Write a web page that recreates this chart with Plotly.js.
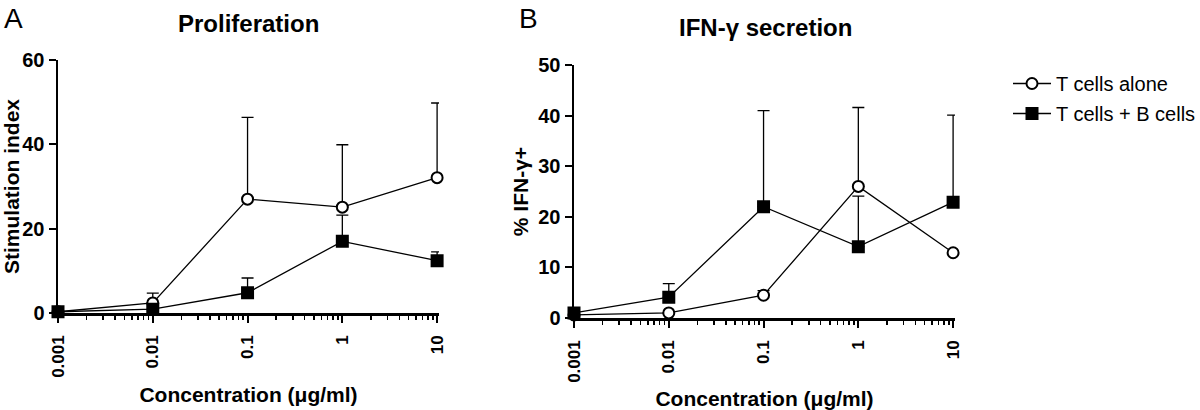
<!DOCTYPE html>
<html><head><meta charset="utf-8">
<script src="https://cdn.plot.ly/plotly-3.0.1.min.js"></script>
<style>body{margin:0;background:#fff}#c{width:1200px;height:410px}</style>
</head><body><div id="c"></div>
<script>
const conc = [0.001, 0.01, 0.1, 1, 10];
const tickLabels = ["0.001", "0.01", "0.1", "1", "10"];
// Panel A: Proliferation (stimulation index)
const profAlone = [0.3, 2.4, 27.0, 25.1, 32.1];
const profAloneErr = [0, 2.3, 19.4, 14.8, 17.7];
const profWithB = [0.3, 0.9, 4.8, 17.0, 12.4];
const profWithBErr = [0, 0, 3.5, 6.2, 2.1];
// Panel B: IFN-γ secretion (% IFN-γ+)
const ifnAlone = [0.6, 1.0, 4.5, 26.0, 12.9];
const ifnAloneErr = [0, 0, 0.9, 15.6, 0];
const ifnWithB = [1.0, 4.1, 22.0, 14.1, 22.9];
const ifnWithBErr = [0, 2.7, 19.0, 10.0, 17.2];

const FONT = "Liberation Sans, Arial, sans-serif";
const W = 1200, H = 410;
function ex(a,b){return [a/W, b/W];}
function ey(top,bot){return [(H-bot)/H, (H-top)/H];}

function tr(x, y, err, name, filled, xa, ya, show){
  return {x:x, y:y, type:'scatter', mode:'lines+markers', name:name, showlegend:show,
    legendgroup:name, xaxis:xa, yaxis:ya, cliponaxis:false,
    line:{color:'#000', width:1.3},
    marker:{symbol: filled?'square':'circle', size:11, color: filled?'#000':'#fff',
      line:{color:'#000', width:2}},
    error_y:{type:'data', symmetric:false, array:err, arrayminus:err.map(()=>0),
      color:'#000', thickness:1.3, width:6}};
}

const data = [
  tr(conc, profAlone, profAloneErr, 'T cells alone', false, 'x', 'y', true),
  tr(conc, profWithB, profWithBErr, 'T cells + B cells', true, 'x', 'y', true),
  tr(conc, ifnAlone, ifnAloneErr, 'T cells alone', false, 'x2', 'y2', false),
  tr(conc, ifnWithB, ifnWithBErr, 'T cells + B cells', true, 'x2', 'y2', false),
];

function xaxis(domain, anchor, so){
  return {type:'log', domain:domain, anchor:anchor, range:[-3, 1.02],
    showgrid:false, zeroline:false, showline:true, linecolor:'#000', linewidth:2.5,
    ticks:'outside', ticklen:7, tickwidth:2, tickcolor:'#000', ticklabelstandoff:6,
    tickvals:conc, ticktext:tickLabels, tickangle:-90,
    tickfont:{family:FONT, size:17, color:'#000', weight:'bold'},
    minor:{ticks:'outside', ticklen:4, tickwidth:1.5, tickcolor:'#000', dtick:'D1', showgrid:false},
    title:{text:'<b>Concentration (μg/ml)</b>', font:{family:FONT, size:21, color:'#000'}, standoff:so}};
}
function yaxis(domain, anchor, max, dt, title, so){
  return {domain:domain, anchor:anchor, range:[0, max], dtick:dt,
    showgrid:false, zeroline:false, showline:true, linecolor:'#000', linewidth:2.5,
    ticks:'outside', ticklen:7, tickwidth:2, tickcolor:'#000',
    tickfont:{family:FONT, size:20, color:'#000', weight:'bold'},
    title:{text:'<b>'+title+'</b>', font:{family:FONT, size:21, color:'#000'}, standoff:so}};
}

const layout = {
  width:W, height:H, margin:{l:0, r:0, t:0, b:0, autoexpand:false},
  paper_bgcolor:'#fff', plot_bgcolor:'#fff',
  font:{family:FONT, color:'#000'},
  xaxis: xaxis(ex(58, 439), 'y', 11),
  yaxis: yaxis(ey(60, 313), 'x', 60, 20, 'Stimulation index', 1),
  xaxis2: xaxis(ex(574, 955), 'y2', 12),
  yaxis2: yaxis(ey(65, 318), 'x2', 50, 10, '% IFN-γ+', 4),
  showlegend:true,
  legend:{x:1008/W, y:(H-64)/H, xanchor:'left', yanchor:'top', bgcolor:'rgba(0,0,0,0)',
    traceorder:'grouped', tracegroupgap:1,
    font:{family:FONT, size:20, color:'#000'}, itemwidth:38},
  annotations:[
    {text:'A', x:2/W, y:(H-1)/H, xref:'paper', yref:'paper', xanchor:'left', yanchor:'top', showarrow:false, font:{family:FONT, size:28, color:'#000'}},
    {text:'B', x:517/W, y:(H-1)/H, xref:'paper', yref:'paper', xanchor:'left', yanchor:'top', showarrow:false, font:{family:FONT, size:28, color:'#000'}},
    {text:'<b>Proliferation</b>', x:248/W, y:(H-23)/H, xref:'paper', yref:'paper', xanchor:'center', yanchor:'middle', showarrow:false, font:{family:FONT, size:24, color:'#000'}},
    {text:'<b>IFN-γ secretion</b>', x:765/W, y:(H-28)/H, xref:'paper', yref:'paper', xanchor:'center', yanchor:'middle', showarrow:false, font:{family:FONT, size:24, color:'#000'}}
  ]
};
Plotly.newPlot('c', data, layout, {displayModeBar:false, staticPlot:true});
</script></body></html>
